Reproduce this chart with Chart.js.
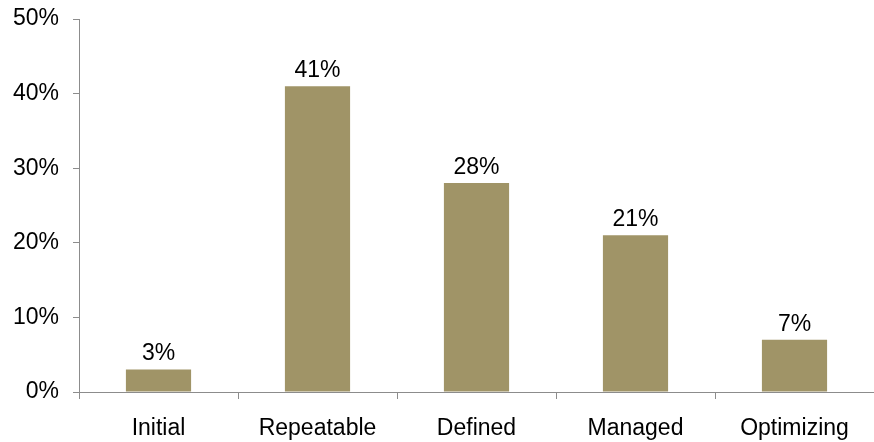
<!DOCTYPE html>
<html>
<head>
<meta charset="utf-8">
<script src="https://cdn.jsdelivr.net/npm/chart.js@4/dist/chart.umd.min.js"></script>
<style>
  html, body { margin: 0; padding: 0; background: #fff; }
  #wrap { width: 874px; height: 442px; }
</style>
</head>
<body>
<div id="wrap"><canvas id="chart" width="874" height="442"></canvas></div>
<script>
// Chart data
const categories = ['Initial', 'Repeatable', 'Defined', 'Managed', 'Optimizing'];
const shares = [3, 41, 28, 21, 7];
const yTicks = [0, 10, 20, 30, 40, 50];

const barColor = '#a09467';
const axisColor = '#8c8c8c';
const fontFamily = '"Liberation Sans", Arial, Helvetica, sans-serif';

// Draw value labels above each bar
const valueLabels = {
    id: 'valueLabels',
    afterDatasetsDraw(chart) {
        const ctx = chart.ctx;
        const meta = chart.getDatasetMeta(0);
        ctx.save();
        ctx.font = '23px ' + fontFamily;
        ctx.fillStyle = '#000';
        ctx.textAlign = 'center';
        ctx.textBaseline = 'bottom';
        meta.data.forEach((bar, i) => {
            ctx.fillText(shares[i] + '%', bar.x, bar.y - 4);
        });
        ctx.restore();
    }
};

const ctx = document.getElementById('chart').getContext('2d');
new Chart(ctx, {
    type: 'bar',
    data: {
        labels: categories,
        datasets: [{
            data: shares,
            backgroundColor: barColor,
            borderWidth: 0,
            categoryPercentage: 1,
            barPercentage: 0.41
        }]
    },
    options: {
        responsive: false,
        animation: false,
        layout: { padding: { left: 0, top: 19, right: -5, bottom: 0 } },
        plugins: {
            legend: { display: false },
            tooltip: { enabled: false }
        },
        scales: {
            x: {
                afterFit(scale) {
                    scale.height = 50;
                    scale.paddingLeft = 0;
                    scale.paddingRight = 0;
                },
                grid: {
                    display: true,
                    drawOnChartArea: false,
                    drawTicks: true,
                    tickLength: 7,
                    color: axisColor,
                    offset: true
                },
                border: { color: axisColor, width: 1 },
                ticks: {
                    color: '#000',
                    padding: 16,
                    maxRotation: 0,
                    font: { size: 23, family: fontFamily }
                }
            },
            y: {
                min: 0,
                max: 50,
                afterFit(scale) {
                    scale.width = 79;
                    scale.paddingTop = 0;
                    scale.paddingBottom = 0;
                },
                afterBuildTicks(axis) {
                    axis.ticks = yTicks.map(v => ({ value: v }));
                },
                grid: {
                    display: true,
                    drawOnChartArea: false,
                    drawTicks: true,
                    tickLength: 6,
                    color: axisColor
                },
                border: { color: axisColor, width: 1 },
                ticks: {
                    color: '#000',
                    padding: 14,
                    font: { size: 23, family: fontFamily },
                    callback: v => v + '%'
                }
            }
        }
    },
    plugins: [valueLabels]
});
</script>
</body>
</html>
